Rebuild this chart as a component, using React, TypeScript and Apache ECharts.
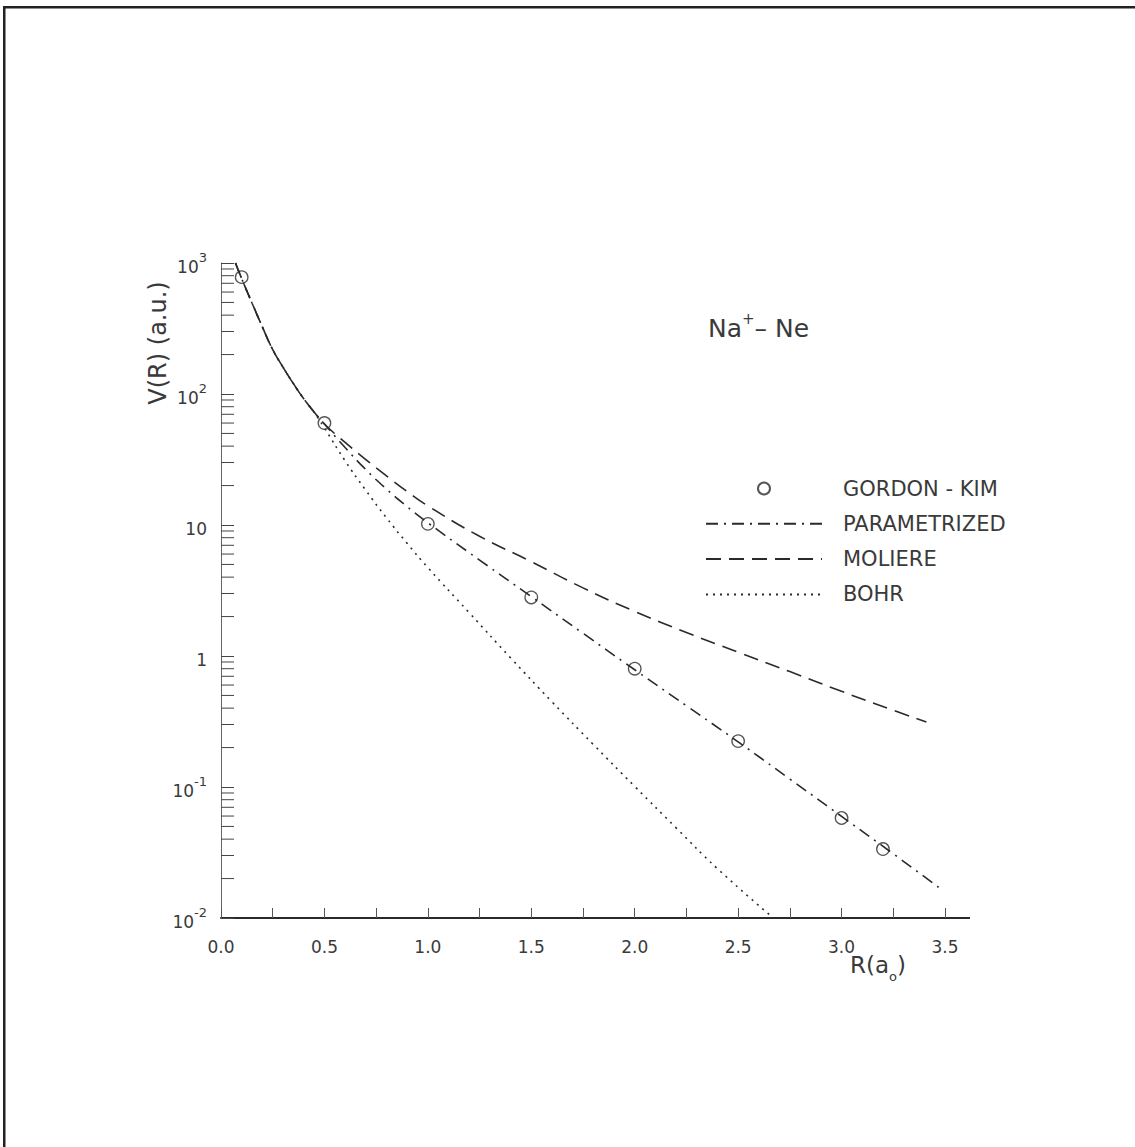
import React, { useEffect, useRef } from "react";
import * as echarts from "echarts";

// Gordon-Kim points
const gkR = [0.1, 0.5, 1.0, 1.5, 2.0, 2.5, 3.0, 3.2];
const gkV = [780, 60, 10.2, 2.8, 0.8, 0.224, 0.058, 0.0336];

// Parametrized potential
const paramR = [0.07, 0.1, 0.15, 0.2, 0.25, 0.3, 0.35, 0.4, 0.45, 0.5, 0.6, 0.7, 0.8, 0.9, 1.0, 1.25, 1.5, 1.75, 2.0, 2.25, 2.5, 2.75, 3.0, 3.25, 3.49];
const paramV = [1000, 760, 495, 325, 218, 160, 120, 92, 73, 59, 39, 26.5, 18.8, 13.8, 10.4, 5.4, 2.84, 1.49, 0.785, 0.417, 0.221, 0.115, 0.0596, 0.0309, 0.0162];

// Moliere potential
const molR = [0.07, 0.1, 0.15, 0.2, 0.25, 0.3, 0.35, 0.4, 0.45, 0.5, 0.6, 0.7, 0.8, 0.9, 1.0, 1.25, 1.5, 1.75, 2.0, 2.25, 2.5, 2.75, 3.0, 3.25, 3.41];
const molV = [1000, 760, 495, 325, 218, 160, 120, 92, 73, 59, 42.7, 31.6, 23.7, 18, 14, 8.2, 5.25, 3.31, 2.19, 1.51, 1.07, 0.76, 0.537, 0.385, 0.313];

// Bohr potential
const bohrR = [0.07, 0.1, 0.15, 0.2, 0.25, 0.3, 0.35, 0.4, 0.45, 0.5, 0.6, 0.7, 0.8, 0.9, 1.0, 1.2, 1.4, 1.6, 1.8, 2.0, 2.2, 2.4, 2.67];
const bohrV = [1000, 760, 495, 325, 218, 160, 120, 92, 72.5, 55, 30.9, 18.4, 11.35, 7.24, 4.73, 2.14, 0.968, 0.447, 0.211, 0.101, 0.0488, 0.0238, 0.01];

// log axis minor tick positions
const decades = [0.01, 0.1, 1, 10, 100];
const minorMultipliers = [2, 3, 4, 5, 6, 7, 8, 9];

const legendNames = ["GORDON - KIM", "PARAMETRIZED", "MOLIERE", "BOHR"];

const FONT = "DejaVu Sans";
const INK = "#2a2a2a";
const TXT = "#3a3a3a";

const zip = (a: number[], b: number[]) => a.map((v, i) => [v, b[i]]);

export default function App() {
  const ref = useRef<HTMLDivElement>(null);
  useEffect(() => {
    if (!ref.current) return;
    const chart = echarts.init(ref.current, null, { renderer: "svg" });
    const minorTicks: number[][] = [];
    decades.forEach((d) => minorMultipliers.forEach((m) => minorTicks.push([0, +(d * m).toPrecision(3)])));

    const option: any = {
      animation: false,
      backgroundColor: "#fff",
      grid: { left: 221, top: 263, width: 724, height: 655 },
      xAxis: {
        type: "value",
        min: 0,
        max: 3.5,
        interval: 0.25,
        axisLine: { lineStyle: { color: INK, width: 2 } },
        axisTick: { inside: true, length: 10, lineStyle: { color: "#555", width: 1 } },
        splitLine: { show: false },
        axisLabel: {
          margin: 20,
          fontFamily: FONT,
          fontSize: 17,
          color: TXT,
          formatter: (v: number) => (Math.abs(v * 2 - Math.round(v * 2)) < 1e-6 ? v.toFixed(1) : ""),
        },
      },
      yAxis: {
        type: "log",
        logBase: 10,
        min: 0.01,
        max: 1000,
        axisLine: { show: true, lineStyle: { color: "#666", width: 1 } },
        axisTick: { show: true, inside: true, length: 13, lineStyle: { color: "#444", width: 1 } },
        splitLine: { show: false },
        axisLabel: {
          margin: 14,
          fontFamily: FONT,
          color: TXT,
          formatter: (v: number) => {
            const e = Math.round(Math.log10(v));
            if (e === 0) return "{b|1}";
            if (e === 1) return "{b|10}";
            return `{b|10}{s|${e}}`;
          },
          rich: {
            b: { fontFamily: FONT, fontSize: 17, color: TXT, lineHeight: 24, verticalAlign: "bottom" },
            s: { fontFamily: FONT, fontSize: 13, color: TXT, lineHeight: 13, verticalAlign: "top" },
          },
        },
      },
      legend: {
        orient: "vertical",
        left: 700,
        top: 473,
        itemWidth: 116,
        itemHeight: 12,
        itemGap: 14.3,
        selectedMode: false,
        data: [
          { name: legendNames[0] },
          { name: legendNames[1], itemStyle: { opacity: 0 } },
          { name: legendNames[2], itemStyle: { opacity: 0 } },
          { name: legendNames[3], itemStyle: { opacity: 0 } },
        ],
        textStyle: { fontFamily: FONT, fontSize: 21, color: TXT, padding: [0, 0, 0, 16] },
      },
      series: [
        {
          type: "custom",
          name: "minor",
          silent: true,
          renderItem: (params: any, api: any) => {
            const p = api.coord([api.value(0), api.value(1)]);
            return {
              type: "line",
              shape: { x1: p[0], y1: p[1], x2: p[0] + 13, y2: p[1] },
              style: { stroke: "#444", lineWidth: 1 },
            };
          },
          data: minorTicks,
          z: 1,
        },
        {
          name: "PARAMETRIZED",
          type: "line",
          data: zip(paramR, paramV),
          symbol: "none",
          smooth: 0.5,
          lineStyle: { color: INK, width: 1.6, type: [12, 6, 2, 6] },
          itemStyle: { color: INK },
        },
        {
          name: "MOLIERE",
          type: "line",
          data: zip(molR, molV),
          symbol: "none",
          smooth: 0.5,
          lineStyle: { color: INK, width: 1.6, type: [15, 8] },
          itemStyle: { color: INK },
        },
        {
          name: "BOHR",
          type: "line",
          data: zip(bohrR, bohrV),
          symbol: "none",
          smooth: 0.5,
          lineStyle: { color: INK, width: 1.6, type: [2, 5] },
          itemStyle: { color: INK },
        },
        {
          name: "GORDON - KIM",
          type: "scatter",
          data: zip(gkR, gkV),
          symbol: "circle",
          symbolSize: 12.5,
          itemStyle: { color: "rgba(255,255,255,0)", borderColor: INK, borderWidth: 1.3 },
          z: 5,
        },
      ],
      graphic: [
        { type: "rect", z: 100, shape: { x: 3, y: 6, width: 1132, height: 2.5 }, style: { fill: "#222" } },
        { type: "rect", z: 100, shape: { x: 3, y: 6, width: 2.5, height: 1141 }, style: { fill: "#222" } },
        { type: "rect", shape: { x: 945, y: 917, width: 25, height: 2 }, style: { fill: INK } },
        {
          type: "text",
          x: 158,
          y: 343,
          rotation: Math.PI / 2,
          style: { text: "V(R) (a.u.)", fontFamily: FONT, fontSize: 24, fill: TXT, align: "center", verticalAlign: "middle" },
        },
        {
          type: "text",
          x: 878,
          y: 968,
          style: {
            text: "{m|R(a}{sub|o}{m|)}",
            align: "center",
            verticalAlign: "middle",
            rich: {
              m: { fontFamily: FONT, fontSize: 23, fill: TXT, lineHeight: 30, verticalAlign: "top" },
              sub: { fontFamily: FONT, fontSize: 13, fill: TXT, lineHeight: 30, verticalAlign: "bottom" },
            },
          },
        },
        {
          type: "text",
          x: 708,
          y: 326,
          style: {
            text: "{m|Na}{s|+}{m|– Ne}",
            verticalAlign: "middle",
            rich: {
              m: { fontFamily: FONT, fontSize: 25, fill: TXT, lineHeight: 30, verticalAlign: "bottom" },
              s: { fontFamily: FONT, fontSize: 15, fill: TXT, lineHeight: 15, verticalAlign: "top" },
            },
          },
        },
      ],
    };
    chart.setOption(option);
    return () => chart.dispose();
  }, []);
  return <div ref={ref} style={{ position: "fixed", left: 0, top: 0, width: 1135, height: 1147 }} />;
}
